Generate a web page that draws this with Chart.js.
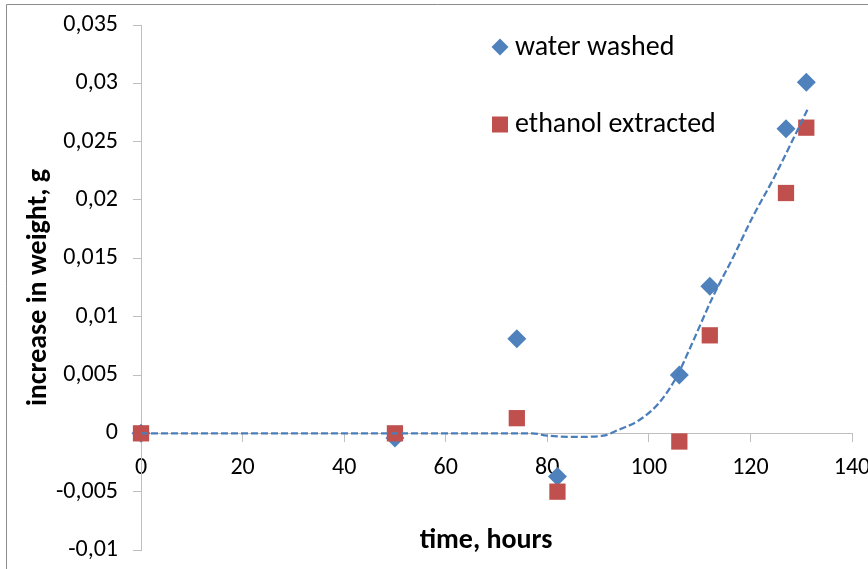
<!DOCTYPE html>
<html><head><meta charset="utf-8">
<script src="https://cdn.jsdelivr.net/npm/chart.js@4"></script>
<style>html,body{margin:0;padding:0;background:#fff;} #wrap{position:relative;width:868px;height:569px;}</style>
</head><body><div id="wrap"><canvas id="c"></canvas></div>
<script>
const timeWater = [0, 50, 74, 82, 106, 112, 127, 131];
const waterWashed = [0, -0.0004, 0.0081, -0.0037, 0.0050, 0.0126, 0.0261, 0.0301];
const timeEthanol = [0, 50, 74, 82, 106, 112, 127, 131];
const ethanolExtracted = [0, 0, 0.0013, -0.0050, -0.0007, 0.0084, 0.0206, 0.0262];
const trendTime = [0, 77, 80, 86, 91, 94, 98, 102, 105.4, 108, 112.6, 116.6, 120.5, 124.5, 131.3];
const trendValues = [0, 0, -0.0002, -0.0003, -0.0002, 0.0003, 0.0011, 0.0026, 0.0048, 0.0072, 0.0117, 0.0151, 0.0186, 0.0218, 0.0278];
const seriesNames = ['water washed', 'ethanol extracted'];
const xTickLabels = ['0', '20', '40', '60', '80', '100', '120', '140'];
const yTickLabels = ['-0,01', '-0,005', '0', '0,005', '0,01', '0,015', '0,02', '0,025', '0,03', '0,035'];
const xTitle = 'time, hours';
const yTitle = 'increase in weight, g';

const FONT = "Carlito, Lato, 'Liberation Sans', sans-serif";
const BLUE = '#4f81bd', RED = '#c0504d', TREND = '#4a7ebb', AXIS = '#bfbfbf';

const zip = (xs, ys) => xs.map((x, i) => ({x: x, y: ys[i]}));

const framePlugin = {
  id: 'frame',
  beforeDraw(chart) {
    const ctx = chart.ctx;
    ctx.save();
    ctx.fillStyle = '#fff';
    ctx.fillRect(0, 0, chart.width, chart.height);
    ctx.strokeStyle = '#8c8c8c';
    ctx.lineWidth = 1;
    ctx.beginPath();
    ctx.moveTo(6.5, chart.height);
    ctx.lineTo(6.5, 4.5);
    ctx.lineTo(chart.width, 4.5);
    ctx.stroke();
    ctx.restore();
  },
  afterDraw(chart) {
    const ctx = chart.ctx;
    ctx.save();
    ctx.fillStyle = '#000';
    ctx.font = "bold 28px " + FONT;
    ctx.textAlign = 'center';
    ctx.textBaseline = 'middle';
    ctx.fillText(xTitle, 486, 541);
    ctx.font = "28px " + FONT;
    ctx.textAlign = 'left';
    ctx.fillStyle = BLUE;
    ctx.beginPath();
    ctx.moveTo(500, 38.5); ctx.lineTo(508.5, 47); ctx.lineTo(500, 55.5); ctx.lineTo(491.5, 47); ctx.closePath();
    ctx.fill();
    ctx.fillStyle = RED;
    ctx.fillRect(492, 116.5, 16, 16);
    ctx.fillStyle = '#000';
    ctx.fillText(seriesNames[0], 515, 47.5);
    ctx.fillText(seriesNames[1], 515, 125);
    ctx.restore();
  }
};

new Chart(document.getElementById('c'), {
  type: 'scatter',
  data: {
    datasets: [
      {label: 'trend', data: zip(trendTime, trendValues), showLine: true, pointRadius: 0,
       borderColor: TREND, borderWidth: 2.25, borderDash: [7, 3], cubicInterpolationMode: 'monotone', fill: false, order: 0, clip: false},
      {label: seriesNames[1], data: zip(timeEthanol, ethanolExtracted), pointStyle: 'rect', pointRadius: 11.5,
       backgroundColor: RED, borderColor: RED, borderWidth: 0, order: 1, clip: false},
      {label: seriesNames[0], data: zip(timeWater, waterWashed), pointStyle: 'rectRot', pointRadius: 9.5,
       backgroundColor: BLUE, borderColor: BLUE, borderWidth: 0, order: 2, clip: false}
    ]
  },
  options: {
    responsive: true, maintainAspectRatio: false, animation: false, events: [],
    layout: {padding: {left: 0, top: 25, right: 16, bottom: 19}},
    plugins: {legend: {display: false}, tooltip: {enabled: false}, title: {display: false}},
    scales: {
      x: {
        type: 'linear', position: {y: 0}, min: 0, max: 140,
        ticks: {stepSize: 20, color: '#000', font: {family: FONT, size: 24}, padding: 12, maxRotation: 0,
                callback: (v, i) => xTickLabels[i]},
        grid: {drawOnChartArea: false, drawTicks: true, tickLength: 8, color: AXIS},
        border: {color: AXIS, width: 1},
        afterFit: (s) => { s.paddingLeft = 0; s.paddingRight = 0; }
      },
      y: {
        type: 'linear', position: 'left', min: -0.01, max: 0.035,
        ticks: {stepSize: 0.005, color: '#000', font: {family: FONT, size: 24}, padding: 15,
                callback: (v, i) => yTickLabels[i]},
        grid: {drawOnChartArea: false, drawTicks: true, tickLength: 8, color: AXIS},
        border: {color: AXIS, width: 1},
        title: {display: true, text: yTitle, color: '#000', font: {family: FONT, size: 28, weight: 'bold'},
                padding: {top: 22, bottom: 0}},
        afterFit: (s) => { s.width = 141; s.paddingTop = 0; s.paddingBottom = 0; }
      }
    }
  },
  plugins: [framePlugin]
});
</script></body></html>
